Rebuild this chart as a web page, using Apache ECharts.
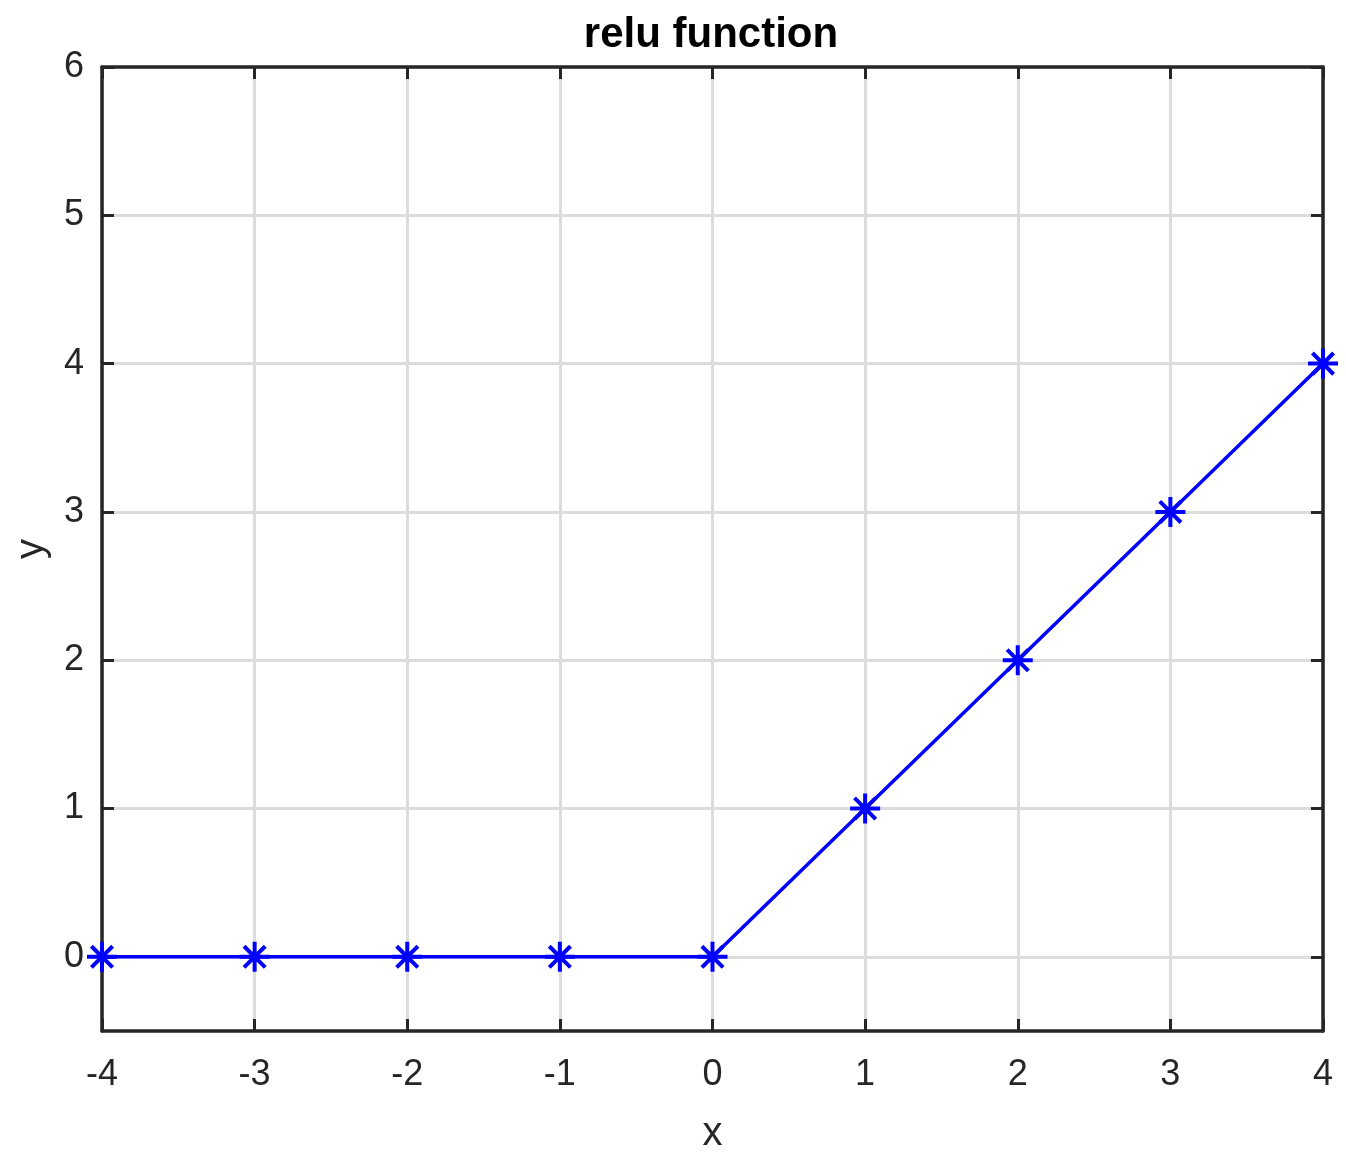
<!DOCTYPE html>
<html>
<head>
<meta charset="utf-8">
<script src="https://cdn.jsdelivr.net/npm/echarts@6/dist/echarts.min.js"></script>
<style>html,body{margin:0;padding:0;background:#fff}#c{width:1346px;height:1155px}</style>
</head>
<body>
<div id="c"></div>
<script>
const xValues = [-4, -3, -2, -1, 0, 1, 2, 3, 4];
const yValues = [0, 0, 0, 0, 0, 1, 2, 3, 4];
const xTicks = [-4, -3, -2, -1, 0, 1, 2, 3, 4];
const yTicks = [0, 1, 2, 3, 4, 5, 6];

const FONT = "'Liberation Sans', Arial, Helvetica, sans-serif";
const AX = '#262626';
const GRID = '#dcdcdc';

const chart = echarts.init(document.getElementById('c'), null, {renderer: 'canvas'});
const asterisk = 'path://M0,-10L0,10M-10,0L10,0M-7.07,-7.07L7.07,7.07M-7.07,7.07L7.07,-7.07';

function axisCommon(showLabel, withGrid, ticks) {
  return {
    axisLine: {show: true, onZero: false, lineStyle: {color: AX, width: 3.5}},
    axisTick: {show: true, inside: true, length: 12, lineStyle: {color: AX, width: 3}, customValues: ticks},
    axisLabel: {show: showLabel, customValues: ticks, color: AX, fontSize: 36, fontFamily: FONT},
    splitLine: {show: withGrid, lineStyle: {color: GRID, width: 3}}
  };
}

chart.setOption({
  backgroundColor: '#fff',
  animation: false,
  title: {
    text: 'relu function', left: 706, textAlign: 'center', top: 9,
    textStyle: {fontFamily: FONT, fontWeight: 'bold', fontSize: 42, color: '#000'}
  },
  grid: {left: 102, right: 23, top: 67, bottom: 124, containLabel: false, outerBoundsMode: 'none'},
  xAxis: [
    Object.assign({type: 'value', min: -4, max: 4, position: 'bottom',
      name: 'x', nameLocation: 'middle', nameGap: 83,
      nameTextStyle: {fontFamily: FONT, fontSize: 40, color: AX}}, axisCommon(true, true, xTicks),
      {axisLabel: {show: true, customValues: xTicks, color: AX, fontSize: 36, fontFamily: FONT, margin: 26}}),
    Object.assign({type: 'value', min: -4, max: 4, position: 'top'}, axisCommon(false, false, xTicks))
  ],
  yAxis: [
    Object.assign({type: 'value', min: -0.5, max: 6, position: 'left',
      name: 'y', nameLocation: 'middle', nameGap: 50,
      nameTextStyle: {fontFamily: FONT, fontSize: 40, color: AX}}, axisCommon(true, true, yTicks),
      {axisLabel: {show: true, customValues: yTicks, color: AX, fontSize: 36, fontFamily: FONT, margin: 18}}),
    Object.assign({type: 'value', min: -0.5, max: 6, position: 'right'}, axisCommon(false, false, yTicks))
  ],
  series: [{
    type: 'line',
    data: xValues.map((x, i) => [x, yValues[i]]),
    xAxisIndex: 0, yAxisIndex: 0,
    lineStyle: {color: '#0000ff', width: 3.5},
    symbol: asterisk,
    symbolSize: 30,
    showAllSymbol: true,
    itemStyle: {color: 'rgba(0,0,0,0)', borderColor: '#0000ff', borderWidth: 4},
    clip: false,
    z: 5
  }]
});
</script>
</body>
</html>
